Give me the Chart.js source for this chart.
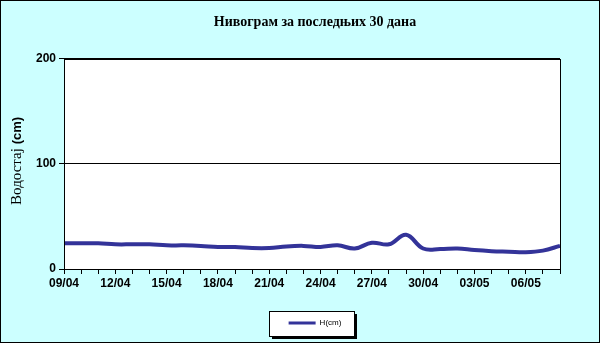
<!DOCTYPE html>
<html>
<head>
<meta charset="utf-8">
<script src="https://cdn.jsdelivr.net/npm/chart.js@4"></script>
<style>
  html, body { margin: 0; padding: 0; background: #ccffff; }
  #wrap { width: 600px; height: 343px; }
</style>
</head>
<body>
<div id="wrap"><canvas id="chart" width="600" height="343"></canvas></div>
<script>
// dates for the last 30 days
const days = ['09/04','10/04','11/04','12/04','13/04','14/04','15/04','16/04','17/04','18/04',
              '19/04','20/04','21/04','22/04','23/04','24/04','25/04','26/04','27/04','28/04',
              '29/04','30/04','01/05','02/05','03/05','04/05','05/05','06/05','07/05','08/05'];
// water level H (cm)
const levels = [24.5, 24.5, 24.5, 23.5, 23.5, 23.5, 22.5, 22.5, 22, 21,
                21, 20, 20, 21.5, 22, 21, 22.5, 19.5, 25, 23.5,
                32.5, 19.5, 19, 19.5, 18, 17, 16.5, 16, 17.5, 22];
const yTicks = [0, 100, 200];

const chartTitle = 'Нивограм за последњих 30 дана';
const seriesName = 'H(cm)';
const lineColor = '#333399';

const framePlugin = {
  id: 'frame',
  beforeDraw(chart) {
    const ctx = chart.ctx, a = chart.chartArea;
    ctx.save();
    ctx.fillStyle = '#ccffff';
    ctx.fillRect(0, 0, chart.width, chart.height);
    ctx.strokeStyle = '#000';
    ctx.lineWidth = 1;
    ctx.strokeRect(0.5, 0.5, chart.width - 1, chart.height - 1);
    ctx.fillStyle = '#fff';
    ctx.fillRect(a.left, a.top, a.right - a.left, a.bottom - a.top);
    // legend box with shadow
    const hb = chart.legend.legendHitBoxes[0];
    if (hb) {
      const bx = Math.round(hb.left - 20), by = Math.round(hb.top + hb.height / 2 - 12.5);
      const bw = Math.round(hb.width + 32), bh = 25;
      ctx.fillStyle = '#000';
      ctx.fillRect(bx + 3, by + 3, bw, bh);
      ctx.fillStyle = '#fff';
      ctx.fillRect(bx, by, bw, bh);
      ctx.strokeRect(bx + 0.5, by + 0.5, bw, bh);
    }
    ctx.restore();
  },
  afterDraw(chart) {
    const ctx = chart.ctx, a = chart.chartArea;
    ctx.save();
    ctx.strokeStyle = '#000';
    ctx.lineWidth = 1;
    ctx.strokeRect(Math.round(a.left) + 0.5, Math.round(a.top) + 0.5,
                   Math.round(a.right - a.left), Math.round(a.bottom - a.top));
    // y axis title: serif word + bold sans unit
    const word = 'Водостај ', unit = '(cm)';
    ctx.translate(17, (a.top + a.bottom) / 2 - 3);
    ctx.rotate(-Math.PI / 2);
    ctx.textBaseline = 'middle';
    ctx.fillStyle = '#000';
    ctx.font = '15px "Liberation Serif"';
    const w1 = ctx.measureText(word).width;
    ctx.font = 'bold 13px "Liberation Sans"';
    const w2 = ctx.measureText(unit).width;
    let x = -(w1 + w2) / 2;
    ctx.font = '15px "Liberation Serif"';
    ctx.fillText(word, x, 0);
    ctx.font = 'bold 13px "Liberation Sans"';
    ctx.fillText(unit, x + w1, 0);
    ctx.restore();
  }
};

new Chart(document.getElementById('chart'), {
  type: 'line',
  data: {
    labels: days,
    datasets: [{
      label: seriesName,
      data: levels,
      borderColor: lineColor,
      backgroundColor: lineColor,
      borderWidth: 4,
      pointRadius: 0,
      tension: 0.4,
      fill: false
    }]
  },
  options: {
    responsive: false,
    animation: false,
    layout: { padding: { left: 30, right: 0, top: 0, bottom: 6 } },
    plugins: {
      title: {
        display: true,
        text: chartTitle,
        color: '#000',
        font: { family: '"Liberation Serif"', size: 14, weight: 'bold' },
        padding: { top: 14, bottom: 28 }
      },
      legend: {
        display: true,
        position: 'bottom',
        labels: {
          color: '#000',
          font: { family: '"Liberation Sans"', size: 8 },
          boxWidth: 27,
          boxHeight: 3,
          padding: 10,
          generateLabels(chart) {
            return [{ text: seriesName, fillStyle: lineColor, strokeStyle: lineColor, lineWidth: 0, datasetIndex: 0 }];
          }
        }
      },
      tooltip: { enabled: false }
    },
    scales: {
      x: {
        offset: false,
        border: { color: '#000', width: 1 },
        grid: { display: true, drawOnChartArea: false, color: '#000', tickLength: 5 },
        ticks: {
          autoSkip: false,
          maxRotation: 0,
          color: '#000',
          padding: 2,
          font: { family: '"Liberation Sans"', size: 12, weight: 'bold' },
          callback(v, i) { return i % 3 === 0 ? days[i] : ''; }
        },
        afterFit(scale) { scale.height = 40; }
      },
      y: {
        min: 0,
        max: 200,
        afterBuildTicks(scale) { scale.ticks = yTicks.map(v => ({ value: v })); },
        border: { color: '#000', width: 1 },
        grid: { color: '#000', tickLength: 5 },
        ticks: {
          color: '#000',
          padding: 3,
          font: { family: '"Liberation Sans"', size: 12, weight: 'bold' }
        },
        afterFit(scale) { scale.width = 34; }
      },
      // empty right-hand spacer so the plot ends at x=560
      yr: {
        position: 'right',
        display: true,
        grid: { display: false },
        border: { display: false },
        ticks: { display: false },
        afterFit(scale) { scale.width = 40; }
      }
    }
  },
  plugins: [framePlugin]
});
</script>
</body>
</html>
